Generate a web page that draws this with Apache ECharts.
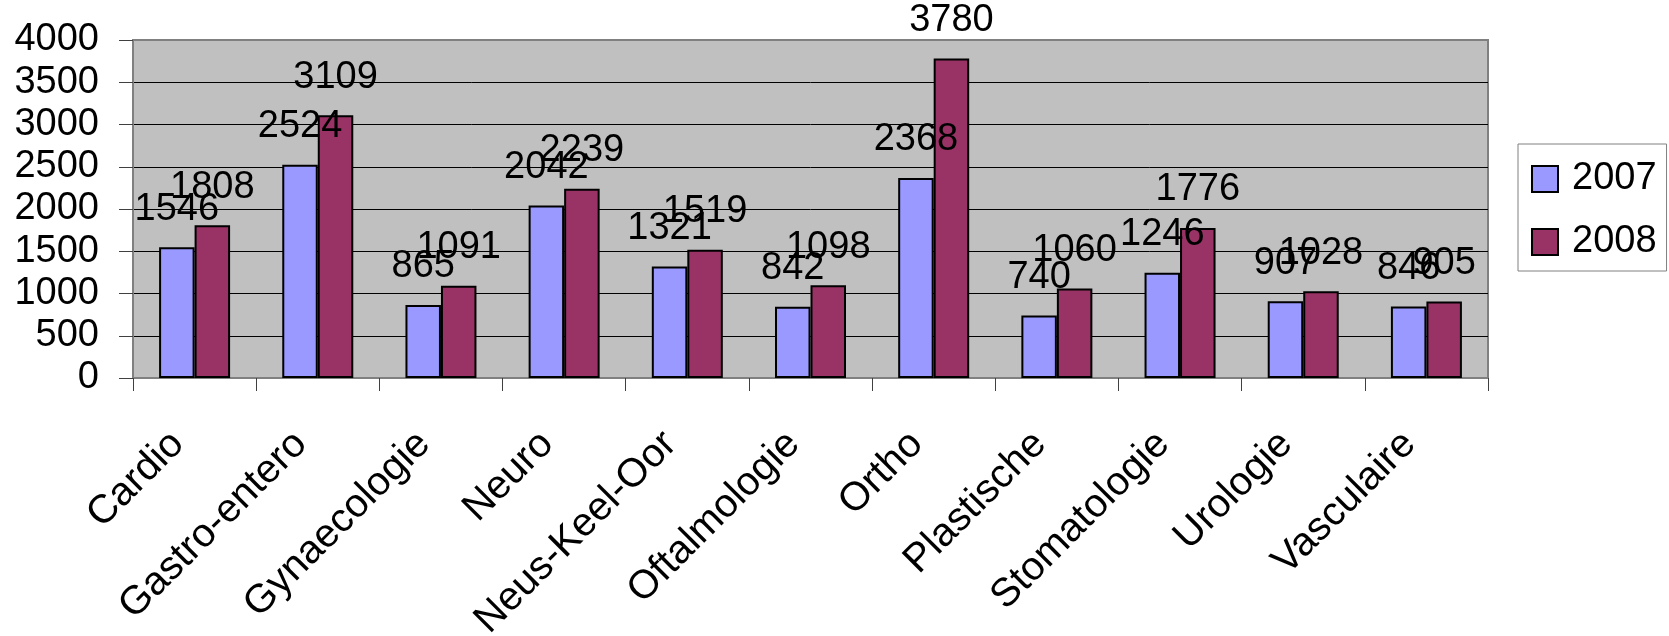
<!DOCTYPE html>
<html>
<head>
<meta charset="utf-8">
<script src="https://cdn.jsdelivr.net/npm/echarts@6/dist/echarts.min.js"></script>
<style>
html,body{margin:0;padding:0;background:#fff;}
#chart{width:1669px;height:636px;}
</style>
</head>
<body>
<div id="chart"></div>
<script>
var categories = ['Cardio','Gastro-entero','Gynaecologie','Neuro','Neus-Keel-Oor','Oftalmologie','Ortho','Plastische','Stomatologie','Urologie','Vasculaire'];
var seriesNames = ['2007','2008'];
var values2007 = [1546, 2524, 865, 2042, 1321, 842, 2368, 740, 1246, 907, 846];
var values2008 = [1808, 3109, 1091, 2239, 1519, 1098, 3780, 1060, 1776, 1028, 905];
var yTicks = [0, 500, 1000, 1500, 2000, 2500, 3000, 3500, 4000];

var FONT = "'Liberation Sans', Arial, sans-serif";
var chart = echarts.init(document.getElementById('chart'), null, {renderer:'canvas'});

function barSeries(name, data, color){
  return {
    name: name,
    type: 'bar',
    data: data,
    barWidth: 35.5,
    barGap: '0%',
    itemStyle: {color: color, borderColor: '#000', borderWidth: 2},
    label: {
      show: true, position: 'top', distance: 19,
      color: '#000', fontFamily: FONT, fontSize: 38
    }
  };
}

chart.setOption({
  animation: false,
  backgroundColor: '#fff',
  textStyle: {fontFamily: FONT},
  grid: {
    left: 133, top: 40, right: 181, bottom: 258,
    show: true, backgroundColor: '#c0c0c0', borderColor: '#808080', borderWidth: 2,
    outerBoundsMode: 'none', containLabel: false
  },
  legend: {
    orient: 'vertical',
    left: 1518, top: 144,
    padding: [16, 10, 10, 13],
    itemWidth: 26, itemHeight: 26, itemGap: 25,
    icon: 'rect',
    backgroundColor: '#fff', borderColor: '#808080', borderWidth: 1,
    textStyle: {fontFamily: FONT, fontSize: 38, color: '#000', lineHeight: 38, padding: [0,0,0,9]},
    data: seriesNames
  },
  xAxis: {
    type: 'category',
    data: categories,
    boundaryGap: true,
    axisLine: {show: true, lineStyle: {color: '#808080', width: 2}},
    axisTick: {show: true, length: 13, lineStyle: {color: '#404040', width: 1}},
    axisLabel: {
      interval: 0, rotate: 45, margin: 43, padding: [0, 24, 0, 0],
      color: '#000', fontFamily: FONT, fontSize: 40
    },
    splitLine: {show: false}
  },
  yAxis: {
    type: 'value',
    min: yTicks[0], max: yTicks[yTicks.length-1], interval: yTicks[1]-yTicks[0],
    axisLine: {show: true, lineStyle: {color: '#808080', width: 2}},
    axisTick: {show: true, length: 14, lineStyle: {color: '#404040', width: 1}},
    axisLabel: {margin: 34, color: '#000', fontFamily: FONT, fontSize: 38,
      formatter: function(v){ return String(v); }},
    splitLine: {show: true, lineStyle: {color: ['#000','#000','#000','#000','#000','#000','#000','#000','#808080'], width: 1}}
  },
  series: [
    barSeries(seriesNames[0], values2007, '#9999ff'),
    barSeries(seriesNames[1], values2008, '#993366')
  ]
});
</script>
</body>
</html>
